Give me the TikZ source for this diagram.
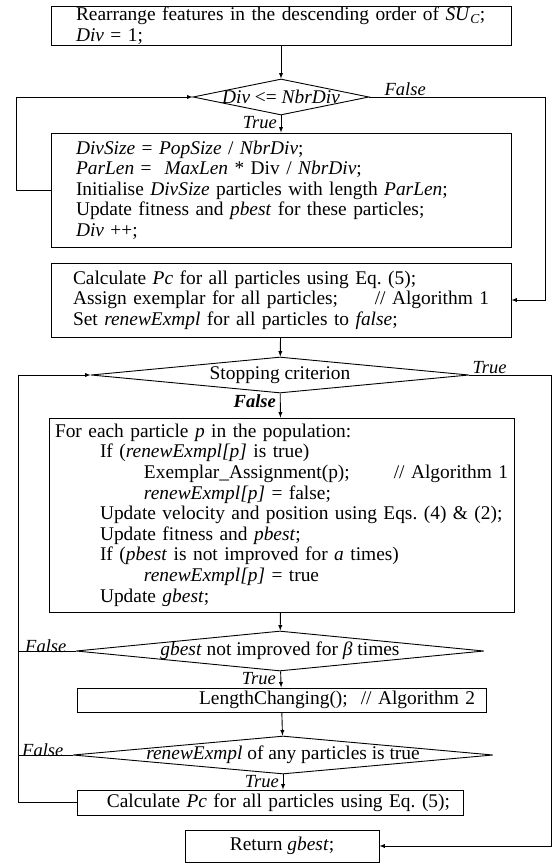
\documentclass[tikz,border=0pt]{standalone}
\usepackage{fontspec}
\setmainfont{Liberation Serif}
\usepackage{tikz}
\usetikzlibrary{shapes.geometric, arrows, positioning, calc}
\frenchspacing

\begin{document}
\begin{tikzpicture}[x=1pt, y=-1pt,
    font=\fontsize{19.4}{20.6}\selectfont,
    procbox/.style={draw, line width=0.9pt, rectangle, inner sep=0pt, align=left},
    decision/.style={draw, line width=0.9pt, diamond, inner sep=0pt},
    flow/.style={draw, line width=0.9pt, -latex},
    link/.style={draw, line width=0.9pt},
    lbl/.style={font=\fontsize{18.5}{20}\selectfont\itshape, inner sep=1pt}]
    \useasboundingbox (0,0) rectangle (556,865);
    % Initialisation part
    \node[procbox, minimum width=460pt, minimum height=39pt, text width=410pt]
        (init) at (281,25.5)
        {Rearrange features in the descending order of \textit{SU}\textsubscript{\textit{C}};\\
         \textit{Div} = 1;};
    \node[decision, minimum width=176pt, minimum height=36pt] (loopdec) at (281,97) {};
    \node (loopdect) at (loopdec) {\textit{Div} <= \textit{NbrDiv}};
    \node[procbox, minimum width=460pt, minimum height=114pt, text width=410pt]
        (divinit) at (281,190)
        {\textit{DivSize} = \textit{PopSize} / \textit{NbrDiv};\\
         \textit{ParLen} = ~\textit{MaxLen} * Div / \textit{NbrDiv};\\
         Initialise \textit{DivSize} particles with length \textit{ParLen};\\
         Update fitness and \textit{pbest} for these particles;\\
         \textit{Div} ++;};
    \node[procbox, minimum width=460pt, minimum height=74pt, text width=416pt]
        (prep) at (281,300)
        {Calculate \textit{Pc} for all particles using Eq. (5);\\
         Assign exemplar for all particles;\hfill// Algorithm 1\\
         Set \textit{renewExmpl} for all particles to \textit{false};};
    \coordinate (loopL) at (16,97);
    \coordinate (loopR) at (545,97);
    \draw[flow] (init) -- (loopdec);
    \draw[flow] (loopdec) -- (divinit);
    \draw[flow] (divinit.west) -| (loopL) -- (loopdec.west);
    \draw[flow] (loopdec.east) -- (loopR) |- (prep.east);
    \node[lbl, above right=0pt and 14pt of loopdec.east] (lf1) {False};
    \node[lbl, below left=0pt and 3pt of loopdec.south] (lt1) {True};
    % Main loop
    \node[decision, minimum width=378pt, minimum height=36pt] (stopdec) at (280,375) {};
    \node (stopdect) at (stopdec) {Stopping criterion};
    \node[procbox, minimum width=465pt, minimum height=194pt, text width=453pt]
        (update) at (281.5,515)
        {For each particle \textit{p} in the population:\\
         \hspace*{45pt}If (\textit{renewExmpl[p]} is true)\\
         \hspace*{89pt}Exemplar\_Assignment(p);\hfill// Algorithm 1\\
         \hspace*{89pt}\textit{renewExmpl[p]} = false;\\
         \hspace*{45pt}Update velocity and position using Eqs. (4) \& (2);\\
         \hspace*{45pt}Update fitness and \textit{pbest};\\
         \hspace*{45pt}If (\textit{pbest} is not improved for \textit{a} times)\\
         \hspace*{89pt}\textit{renewExmpl[p]} = true\\
         \hspace*{45pt}Update \textit{gbest};};
    \node[decision, minimum width=408pt, minimum height=40pt] (gbestdec) at (280,651) {};
    \node (gbestdect) at (gbestdec) {\textit{gbest} not improved for \textit{β} times};
    \node[procbox, minimum width=409pt, minimum height=24pt, text width=387pt, align=right]
        (lenchg) at (281.5,700) {LengthChanging();~~// Algorithm 2};
    \node[decision, minimum width=420pt, minimum height=38pt] (renewdec) at (283,755) {};
    \node (renewdect) at (renewdec) {\textit{renewExmpl} of any particles is true};
    \node[procbox, minimum width=386pt, minimum height=25pt, text width=360pt, align=right]
        (recalc) at (270,802.5) {Calculate \textit{Pc} for all particles using Eq. (5);};
    \node[procbox, minimum width=194pt, minimum height=32pt, align=center]
        (result) at (282,846) {Return \textit{gbest};};
    \coordinate (loopL2) at (18,375);
    \coordinate (loopR2) at (551,375);
    \draw[flow] (prep) -- (stopdec);
    \draw[flow] (stopdec) -- (update);
    \draw[flow] (update) -- (gbestdec);
    \draw[flow] (gbestdec) -- (lenchg);
    \draw[flow] (lenchg) -- (renewdec);
    \draw[flow] (renewdec.south) -- (renewdec.south |- recalc.north);
    \draw[flow] (recalc.west) -| (loopL2) -- (stopdec.west);
    \draw[link] (gbestdec.west) -- (gbestdec.west -| loopL2);
    \draw[link] (renewdec.west) -- (renewdec.west -| loopL2);
    \draw[flow] (stopdec.east) -- (loopR2) |- (result.east);
    \node[lbl, above right=0pt and 2pt of stopdec.east] (lt2) {True};
    \node[lbl, font=\fontsize{18.5}{20}\selectfont\bfseries\itshape,
        below left=0pt and 3pt of stopdec.south] (lf2) {False};
    \node[lbl, above left=-3pt and 8pt of gbestdec.west] (lf3) {False};
    \node[lbl, below left=0pt and 3pt of gbestdec.south] (lt3) {True};
    \node[lbl, above left=-3pt and 8pt of renewdec.west] (lf4) {False};
    \node[lbl, below left=0pt and 3pt of renewdec.south] (lt4) {True};
\end{tikzpicture}
\end{document}
